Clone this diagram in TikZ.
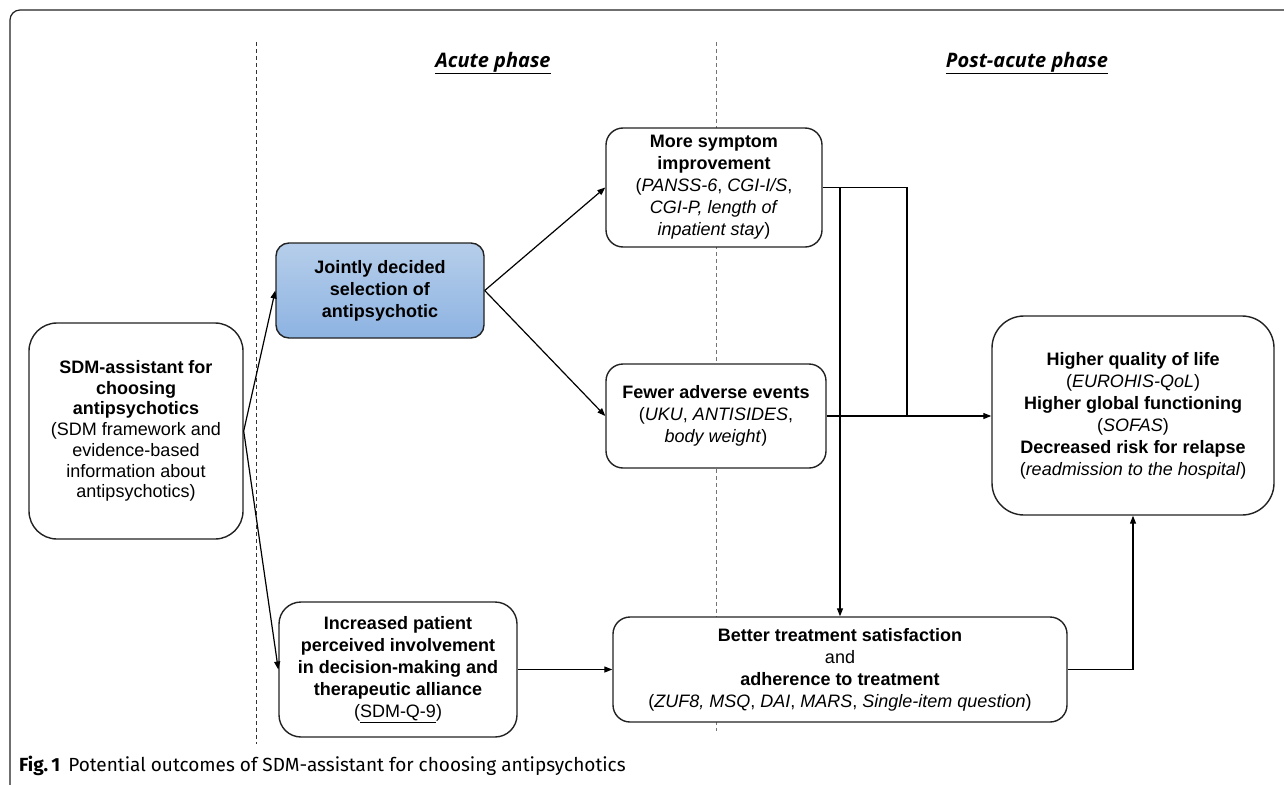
\documentclass[tikz,border=0pt]{standalone}
\usepackage{fontspec}
\setmainfont{Liberation Sans}
\newfontfamily\titlefont{Open Sans}
\newfontfamily\capfont{Fira Sans}
\usetikzlibrary{arrows.meta,calc}
\definecolor{boxline}{HTML}{222222}
\definecolor{jtop}{RGB}{182,206,234}
\definecolor{jbot}{RGB}{141,179,226}
\tikzset{
  txt/.style={font={\fontsize{18}{22}\selectfont}, align=center, inner sep=0pt},
  obox/.style={txt, draw=boxline, line width=1.4pt, fill=white},
  conn/.style={line width=1.2pt, draw=black},
  arr/.style={conn, -{Triangle[length=8pt,width=6pt]}},
  divider/.style={dashed, dash pattern=on 4pt off 3pt, line width=0.9pt},
  phase/.style={font={\titlefont\bfseries\itshape\fontsize{20}{24}\selectfont}, inner sep=0pt}
}
\begin{document}
\begin{tikzpicture}[x=1pt,y=-1pt]
\useasboundingbox (0,0) rectangle (1284,784);
% outer frame
\draw[line width=1.2pt, rounded corners=10pt, draw=boxline] (10,790) -- (10,10) -- (1290,10);
% dividers
\draw[divider, draw=black!80] (256,42) -- (256,744);
\draw[divider, draw=black!55] (716,42) -- (716,731);
% titles
\node[phase] (acute) at (493,63) {\underline{Acute phase}};
\node[phase] (post) at (1027,63) {\underline{Post-acute phase}};
% boxes
\node[obox, rounded corners=28pt, minimum width=214pt, minimum height=216pt,
  font={\fontsize{18}{20.7}\selectfont}] (sdm) at (136,431)
  {\textbf{SDM-assistant for}\\ \textbf{choosing}\\ \textbf{antipsychotics}\\ (SDM framework and\\ evidence-based\\ information about\\ antipsychotics)};
\node[obox, rounded corners=13pt, minimum width=208pt, minimum height=95pt,
  top color=jtop, bottom color=jbot] (joint) at (380,290.5)
  {\textbf{Jointly decided}\\ \textbf{selection of}\\ \textbf{antipsychotic}};
\node[obox, rounded corners=17pt, minimum width=216pt, minimum height=119pt] (more) at (714,187.5)
  {\textbf{More symptom}\\ \textbf{improvement}\\ (\textit{PANSS-6}, \textit{CGI-I/S},\\ \textit{CGI-P, length of}\\ \textit{inpatient stay})};
\node[obox, rounded corners=17pt, minimum width=220pt, minimum height=104pt] (fewer) at (716,416)
  {\textbf{Fewer adverse events}\\ (\textit{UKU}, \textit{ANTISIDES},\\ \textit{body weight})};
\node[obox, rounded corners=32pt, minimum width=282pt, minimum height=199pt] (higher) at (1133,415.5)
  {\textbf{Higher quality of life}\\ (\textit{EUROHIS-QoL})\\ \textbf{Higher global functioning}\\ (\textit{SOFAS})\\ \textbf{Decreased risk for relapse}\\ (\textit{readmission to the hospital})};
\node[obox, rounded corners=22pt, minimum width=238pt, minimum height=135pt] (incr) at (398,669.5)
  {\textbf{Increased patient}\\ \textbf{perceived involvement}\\ \textbf{in decision-making and}\\ \textbf{therapeutic alliance}\\ (\underline{SDM-Q-9})};
\node[obox, rounded corners=17pt, minimum width=454pt, minimum height=105pt] (better) at (840,669.5)
  {\textbf{Better treatment satisfaction}\\ and\\ \textbf{adherence to treatment}\\ (\textit{ZUF8, MSQ}, \textit{DAI}, \textit{MARS}, \textit{Single-item question})};
% connectors
\coordinate (jn) at (907,416);
\draw[arr] (sdm.east) -- (joint.west);
\draw[arr] (sdm.east) -- (incr.west);
\draw[arr] (joint.east) -- (more.west);
\draw[arr] (joint.east) -- (fewer.west);
\draw[conn] (more.east) -| (jn);
\draw[arr] (fewer.east) -- (fewer.east -| higher.west);
\draw[arr] (more.east -| better.north) -- (better.north);
\draw[arr] (incr.east) -- (incr.east -| better.west);
\draw[arr] (better.east) -| (higher.south);
% caption
\node[anchor=base west, inner sep=0pt, font={\capfont\fontsize{19}{23}\selectfont}] (cap) at (19,771)
  {\textbf{Fig.\,1}\hspace{8pt}Potential outcomes of SDM-assistant for choosing antipsychotics};
\end{tikzpicture}
\end{document}
